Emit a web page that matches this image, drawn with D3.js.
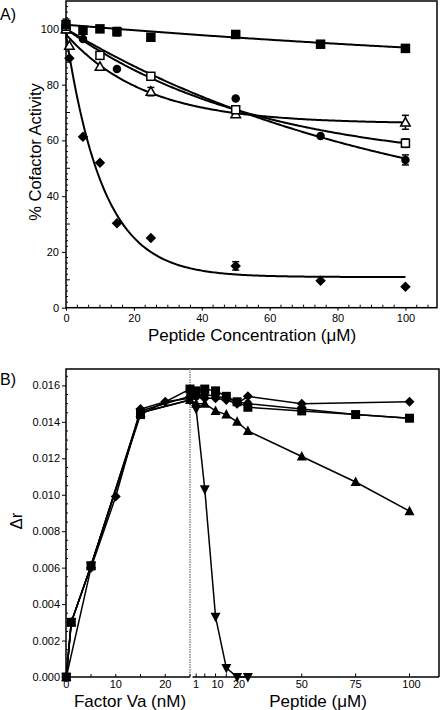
<!DOCTYPE html>
<html><head><meta charset="utf-8">
<script src="https://cdn.jsdelivr.net/npm/d3@7"></script>
<style>
html,body{margin:0;padding:0;background:#fff;}
svg{display:block;font-family:"Liberation Sans",Arial,sans-serif;}
</style></head>
<body><svg id="c" width="441" height="710"></svg>
<script>
// ---------- Panel A data ----------
const aTicksY = [0,20,40,60,80,100];
const aTicksX = [0,20,40,60,80,100];
const sqFilledX = [0,5,10,15,25,50,75,100];
const sqFilledY = [101.5,99.5,100,99,97,98,94.5,93];
const sqFilledErr = [2,0,0,1.5,0,0,0,0];
const circX = [0,5,15,25,50,75,100];
const circY = [100,96.4,85.6,83,75,61.6,53];
const circErr = [0,0,0,0,0,0,1.8];
const openSqX = [0,10,25,50,100];
const openSqY = [100,90.5,83,71,59];
const openSqErr = [0,1.2,1.2,0,1.5];
const triX = [0,1,10,25,50,100];
const triY = [100,94,86.5,77.5,69.5,66.5];
const triErr = [0,0,0,1.5,0,2.5];
const diaX = [0,1,5,10,15,25,50,75,100];
const diaY = [100,89.5,61.3,52,30.3,25,15,9.7,7.5];
const diaErr = [0,0,0,0,0,0,1.5,0,0];
// fitted exponential decays: plateau, span, rate
const fitSq = [80,21.5,0.0048];
const fitCirc = [26.4,73.6,0.01];
const fitOpenSq = [50.5,49.5,0.01764];
const fitTri = [66,32,0.0427];
const fitDia = [11,87,0.0909];

// ---------- Panel B data ----------
const bTicksY = [0,0.002,0.004,0.006,0.008,0.010,0.012,0.014,0.016];
const vaTicks = [0,10,20];
const pepTickLabels = [1,10,20,50,75,100];
const pepTicks = [1,5,10,15,20,50,75,100];
const sqVaX = [0,1,5,15,25], sqVaY = [0,0.0030,0.0061,0.0144,0.0158];
const sqPepX = [1,5,10,15,20,25,50,75,100], sqPepY = [0.0157,0.0158,0.0157,0.0154,0.0151,0.0148,0.0146,0.0144,0.0142];
const ciVaX = [0,1,5,15,25], ciVaY = [0,0.0030,0.0061,0.0146,0.0154];
const ciPepX = [1,5,10,15,20,25,50,75,100], ciPepY = [0.0154,0.0155,0.0154,0.0153,0.0151,0.0150,0.0147,0.0144,0.0142];
const diVaX = [0,5,10,15,20,25], diVaY = [0,0.0060,0.0099,0.0147,0.0151,0.0153];
const diPepX = [1,5,10,15,20,25,50,100], diPepY = [0.0154,0.0153,0.0153,0.0152,0.0150,0.0154,0.0150,0.0151];
const utVaX = [0,1,5,15,25], utVaY = [0,0.0030,0.0061,0.0145,0.0152];
const utPepX = [1,5,10,15,20,25,50,75,100], utPepY = [0.0150,0.0150,0.0146,0.0144,0.0140,0.0135,0.0121,0.0107,0.0091];
const dtVaX = [0,1,5,15,25], dtVaY = [0,0.0030,0.0061,0.0145,0.0152];
const dtPepX = [1,5,10,15,20,25], dtPepY = [0.0147,0.0103,0.0033,0.0005,0.0000,0.0000];

const svg = d3.select("#c");
const FONT = "Liberation Sans, Arial, sans-serif";

function marker(g, type, x, y, s) {
  s = s || 9;
  const h = s/2;
  if (type === "sq") g.append("rect").attr("x",x-h).attr("y",y-h).attr("width",s).attr("height",s).attr("fill","#000");
  else if (type === "osq") g.append("rect").attr("x",x-h+0.75).attr("y",y-h+0.75).attr("width",s-1.5).attr("height",s-1.5).attr("fill","#fff").attr("stroke","#000").attr("stroke-width",1.5);
  else if (type === "ci") g.append("circle").attr("cx",x).attr("cy",y).attr("r",h).attr("fill","#000");
  else if (type === "di") g.append("path").attr("d",`M${x},${y-h-0.5}L${x+h+0.5},${y}L${x},${y+h+0.5}L${x-h-0.5},${y}Z`).attr("fill","#000");
  else if (type === "tri") g.append("path").attr("d",`M${x},${y-h-1}L${x+h+0.5},${y+h-0.5}L${x-h-0.5},${y+h-0.5}Z`).attr("fill","#000");
  else if (type === "otri") g.append("path").attr("d",`M${x},${y-h}L${x+h},${y+h-1}L${x-h},${y+h-1}Z`).attr("fill","#fff").attr("stroke","#000").attr("stroke-width",1.5);
  else if (type === "dtri") g.append("path").attr("d",`M${x},${y+h+1}L${x+h+0.5},${y-h+0.5}L${x-h-0.5},${y-h+0.5}Z`).attr("fill","#000");
}

// ================= Panel A =================
const aL = 66, aR = 437, aT = 1, aB = 307.7;
const xA = d3.scaleLinear().domain([0,109.3]).range([aL,aR]);
const yA = d3.scaleLinear().domain([0,110]).range([aB,aT]);
const gA = svg.append("g");

gA.append("rect").attr("x",aL).attr("y",aT).attr("width",aR-aL).attr("height",aB-aT).attr("fill","none").attr("stroke","#000").attr("stroke-width",1.5);

const yAxisA = d3.axisLeft(yA).tickValues(aTicksY).tickSize(4).tickPadding(3).tickFormat(d3.format("d"));
const gyA = gA.append("g").attr("transform",`translate(${aL},0)`).call(yAxisA);
gyA.select(".domain").remove();
gyA.selectAll("text").attr("font-size",11).attr("font-family",FONT);
gA.append("g").selectAll("line").data(d3.range(2,110,2).filter(v=>v%20!==0)).join("line")
  .attr("x1",aL).attr("x2",d=>aL+(d%10===0?4:2)).attr("y1",d=>yA(d)).attr("y2",d=>yA(d)).attr("stroke","#000").attr("stroke-width",1);
const xAxisA = d3.axisBottom(xA).tickValues(aTicksX).tickSize(3).tickPadding(4).tickFormat(d3.format("d"));
const gxA = gA.append("g").attr("transform",`translate(0,${aB})`).call(xAxisA);
gxA.select(".domain").remove();
gxA.selectAll("text").attr("font-size",11).attr("font-family",FONT);
gA.append("g").selectAll("line").data(d3.range(0,109,10/3).filter((v,i)=>i%6!==0)).join("line")
  .attr("x1",d=>xA(d)).attr("x2",d=>xA(d)).attr("y1",aB).attr("y2",aB-3).attr("stroke","#000").attr("stroke-width",1);

const xs = d3.range(0,100.01,0.5);
const lineA = d3.line().x(d=>xA(d[0])).y(d=>yA(d[1]));
[fitSq,fitCirc,fitOpenSq,fitTri,fitDia].forEach(p=>{
  gA.append("path").attr("d",lineA(xs.map(x=>[x,p[0]+p[1]*Math.exp(-p[2]*x)])))
    .attr("fill","none").attr("stroke","#000").attr("stroke-width",2);
});

function errBars(g, X, Y, E, xs_, ys_) {
  X.forEach((x,i)=>{
    if (!E[i]) return;
    const px = xs_(x), y1 = ys_(Y[i]-E[i]), y2 = ys_(Y[i]+E[i]);
    g.append("line").attr("x1",px).attr("x2",px).attr("y1",y1).attr("y2",y2).attr("stroke","#000").attr("stroke-width",1.5);
    [y1,y2].forEach(yy=>g.append("line").attr("x1",px-3.5).attr("x2",px+3.5).attr("y1",yy).attr("y2",yy).attr("stroke","#000").attr("stroke-width",1.5));
  });
}
const setsA = [
  [diaX,diaY,diaErr,"di"],
  [triX,triY,triErr,"otri"],
  [circX,circY,circErr,"ci"],
  [openSqX,openSqY,openSqErr,"osq"],
  [sqFilledX,sqFilledY,sqFilledErr,"sq"]
];
setsA.forEach(([X,Y,E,t])=>{
  errBars(gA,X,Y,E,xA,yA);
  X.forEach((x,i)=>marker(gA,t,xA(x),yA(Y[i]),t==="ci"?8.5:9.5));
});

gA.append("text").attr("x",0).attr("y",20).attr("font-size",16).attr("font-family",FONT).text("A)");
gA.append("text").attr("transform",`translate(41,152) rotate(-90)`).attr("text-anchor","middle")
  .attr("font-size",16.5).attr("font-family",FONT).text("% Cofactor Activity");
gA.append("text").attr("x",252).attr("y",341).attr("text-anchor","middle").attr("font-size",17).attr("font-family",FONT).text("Peptide Concentration (\u03bcM)");

// ================= Panel B =================
const bL = 66, bR = 439, bT = 369, bB = 677;
const xVa = d3.scaleLinear().domain([0,25]).range([66.3,190]);
const xPep = d3.scaleLinear().domain([0,100]).range([194,409.5]);
const yB = d3.scaleLinear().domain([0,0.0169]).range([bB,bT]);
const gB = svg.append("g");

gB.append("path").attr("d",`M${bL},${bB}V${bT}H${bR}V${bB}`).attr("fill","none").attr("stroke","#000").attr("stroke-width",1.5);
gB.append("line").attr("x1",bL).attr("x2",190).attr("y1",bB).attr("y2",bB).attr("stroke","#000").attr("stroke-width",1.5);
gB.append("line").attr("x1",192.5).attr("x2",bR).attr("y1",bB).attr("y2",bB).attr("stroke","#000").attr("stroke-width",1.5);
gB.append("line").attr("x1",190).attr("x2",190).attr("y1",bT).attr("y2",bB).attr("stroke","#888").attr("stroke-width",1.5).attr("stroke-dasharray","1.5,1");

const yAxisB = d3.axisLeft(yB).tickValues(bTicksY).tickSize(4).tickPadding(2).tickFormat(d3.format(".3f"));
const gyB = gB.append("g").attr("transform",`translate(${bL},0)`).call(yAxisB);
gyB.select(".domain").remove();
gyB.selectAll("text").attr("font-size",11).attr("font-family",FONT);
gB.append("g").selectAll("line").data(d3.range(0.0005,0.0169,0.0005).filter(v=>Math.abs(v/0.002-Math.round(v/0.002))>0.01)).join("line")
  .attr("x1",bL).attr("x2",bL+2).attr("y1",d=>yB(d)).attr("y2",d=>yB(d)).attr("stroke","#000").attr("stroke-width",1);

gB.append("g").selectAll("line").data([0,5,10,15,20,25]).join("line")
  .attr("x1",d=>xVa(d)).attr("x2",d=>xVa(d)).attr("y1",bB).attr("y2",bB-3).attr("stroke","#000").attr("stroke-width",1);
gB.append("g").selectAll("text").data(vaTicks).join("text")
  .attr("x",d=>xVa(d)).attr("y",688).attr("text-anchor","middle").attr("font-size",11).attr("font-family",FONT).text(d=>d);
gB.append("g").selectAll("line").data(pepTicks).join("line")
  .attr("x1",d=>xPep(d)).attr("x2",d=>xPep(d)).attr("y1",bB).attr("y2",bB-3.5).attr("stroke","#000").attr("stroke-width",1);
gB.append("g").selectAll("text").data(pepTickLabels).join("text")
  .attr("x",d=>xPep(d)+(d>=10&&d<=20?2:(d===100?2:0))).attr("y",688).attr("text-anchor","middle").attr("font-size",11).attr("font-family",FONT).text(d=>d);

const setsB = [
  [utVaX,utVaY,utPepX,utPepY,"tri"],
  [dtVaX,dtVaY,dtPepX,dtPepY,"dtri"],
  [diVaX,diVaY,diPepX,diPepY,"di"],
  [ciVaX,ciVaY,ciPepX,ciPepY,"ci"],
  [sqVaX,sqVaY,sqPepX,sqPepY,"sq"]
];
const lineB = d3.line().x(d=>d[0]).y(d=>d[1]);
setsB.forEach(([vx,vy,px,py])=>{
  const pts = vx.map((x,i)=>[xVa(x),yB(vy[i])]).concat(px.map((x,i)=>[xPep(x),yB(py[i])]));
  gB.append("path").attr("d",lineB(pts)).attr("fill","none").attr("stroke","#000").attr("stroke-width",1.5);
});
setsB.forEach(([vx,vy,px,py,t])=>{
  vx.forEach((x,i)=>marker(gB,t,xVa(x),yB(vy[i]),t==="ci"?8:9));
  px.forEach((x,i)=>marker(gB,t,xPep(x),yB(py[i]),t==="ci"?8:9));
});

gB.append("text").attr("x",0).attr("y",385).attr("font-size",16).attr("font-family",FONT).text("B)");
gB.append("text").attr("transform",`translate(22,521) rotate(-90)`).attr("text-anchor","middle")
  .attr("font-size",17).attr("font-family",FONT).text("\u0394r");
gB.append("text").attr("x",130).attr("y",706.5).attr("text-anchor","middle").attr("font-size",17).attr("font-family",FONT).text("Factor Va (nM)");
gB.append("text").attr("x",318).attr("y",706.5).attr("text-anchor","middle").attr("font-size",17).attr("font-family",FONT).text("Peptide (\u03bcM)");
</script></body></html>
